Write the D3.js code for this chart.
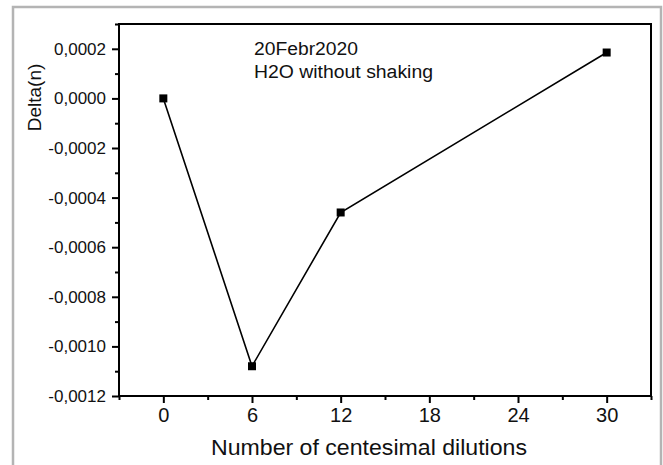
<!DOCTYPE html>
<html>
<head>
<meta charset="utf-8">
<script src="https://cdn.jsdelivr.net/npm/d3@7/dist/d3.min.js"></script>
<style>
  html, body { margin: 0; padding: 0; background: #fff; }
  svg { display: block; font-family: "Liberation Sans", Arial, sans-serif; }
</style>
</head>
<body>
<svg id="chart" width="663" height="465"></svg>
<script>
// Dilution steps and measured refractive-index shift
const dilutions = [0, 6, 12, 30];
const deltaN = [0.0, -0.00108, -0.00046, 0.000185];
const xTicks = [0, 6, 12, 18, 24, 30];
const yTicks = [-0.0012, -0.0010, -0.0008, -0.0006, -0.0004, -0.0002, 0.0000, 0.0002];
const notes = ["20Febr2020", "H2O without shaking"];

const svg = d3.select("#chart");
const plot = { left: 119, top: 24, right: 651, bottom: 396 };

const x = d3.scaleLinear().domain([-3, 33]).range([plot.left, plot.right]);
const y = d3.scaleLinear().domain([-0.0012, 0.0003]).range([plot.bottom, plot.top]);

// outer gray frame
svg.append("rect")
  .attr("x", 13).attr("y", 7).attr("width", 648).attr("height", 480)
  .attr("fill", "none").attr("stroke", "#b4b4b4").attr("stroke-width", 2.5);

const fmtY = v => {
  const s = Math.abs(v).toFixed(4).replace(".", ",");
  return (v < -1e-12 ? "-" : "") + s;
};

// minor ticks
const xMinor = d3.range(-3, 34, 6);
const yMinor = d3.range(-0.0011, 0.00031, 0.0002);

svg.append("g").attr("transform", `translate(0,${plot.bottom})`)
  .call(d3.axisBottom(x).tickValues(xMinor).tickSize(4).tickFormat(""))
  .call(g => g.select(".domain").remove())
  .selectAll("line").attr("stroke", "#000").attr("stroke-width", 2);

svg.append("g").attr("transform", `translate(${plot.left},0)`)
  .call(d3.axisLeft(y).tickValues(yMinor).tickSize(4).tickFormat(""))
  .call(g => g.select(".domain").remove())
  .selectAll("line").attr("stroke", "#000").attr("stroke-width", 2);

// major x axis
const gx = svg.append("g").attr("transform", `translate(0,${plot.bottom})`)
  .call(d3.axisBottom(x).tickValues(xTicks).tickSize(7).tickPadding(5).tickFormat(d3.format("d")));
gx.select(".domain").remove();
gx.selectAll("line").attr("stroke", "#000").attr("stroke-width", 2);
gx.selectAll("text").attr("font-size", 20).attr("fill", "#111")
  .attr("font-family", "Liberation Sans, Arial, sans-serif");

// major y axis
const gy = svg.append("g").attr("transform", `translate(${plot.left},0)`)
  .call(d3.axisLeft(y).tickValues(yTicks).tickSize(7).tickPadding(6).tickFormat(fmtY));
gy.select(".domain").remove();
gy.selectAll("line").attr("stroke", "#000").attr("stroke-width", 2);
gy.selectAll("text").attr("font-size", 17).attr("fill", "#111")
  .attr("font-family", "Liberation Sans, Arial, sans-serif");

// plot frame
svg.append("rect")
  .attr("x", plot.left).attr("y", plot.top)
  .attr("width", plot.right - plot.left).attr("height", plot.bottom - plot.top)
  .attr("fill", "none").attr("stroke", "#000").attr("stroke-width", 2);

// series line and markers
const pts = dilutions.map((d, i) => [d, deltaN[i]]);
svg.append("path")
  .datum(pts)
  .attr("d", d3.line().x(d => x(d[0])).y(d => y(d[1])))
  .attr("fill", "none").attr("stroke", "#000").attr("stroke-width", 1.6);

svg.selectAll("rect.pt").data(pts).enter().append("rect")
  .attr("class", "pt")
  .attr("x", d => x(d[0]) - 4).attr("y", d => y(d[1]) - 4)
  .attr("width", 8).attr("height", 8).attr("fill", "#000");

// annotation
svg.append("text").attr("x", 254).attr("y", 55)
  .attr("font-size", 18).attr("fill", "#111")
  .attr("textLength", 104).attr("lengthAdjust", "spacingAndGlyphs")
  .text(notes[0]);
svg.append("text").attr("x", 254).attr("y", 78)
  .attr("font-size", 18).attr("fill", "#111")
  .attr("textLength", 179).attr("lengthAdjust", "spacingAndGlyphs")
  .text(notes[1]);

// axis titles
svg.append("text").attr("x", 211).attr("y", 455)
  .attr("font-size", 22).attr("fill", "#111")
  .attr("textLength", 316).attr("lengthAdjust", "spacingAndGlyphs")
  .text("Number of centesimal dilutions");

svg.append("text")
  .attr("transform", "translate(41,97.5) rotate(-90)")
  .attr("text-anchor", "middle")
  .attr("font-size", 19).attr("fill", "#111")
  .text("Delta(n)");
</script>
</body>
</html>
